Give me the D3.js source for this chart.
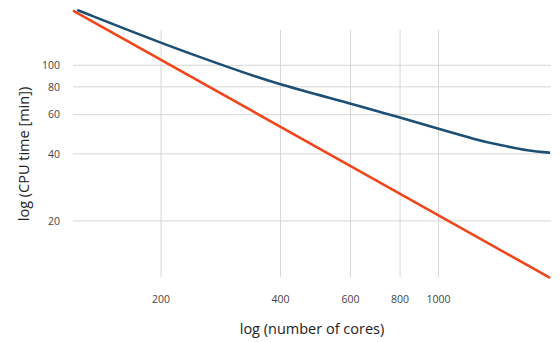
<!DOCTYPE html>
<html>
<head>
<meta charset="utf-8">
<script src="https://cdn.jsdelivr.net/npm/d3@7"></script>
<style>
  body { margin: 0; background: #fff; }
  text { font-family: "Open Sans", sans-serif; }
</style>
</head>
<body>
<div id="chart"></div>
<script>
// values
var xTicks = [200, 400, 600, 800, 1000];
var yTicks = [20, 40, 60, 80, 100];

var idealCores = [120, 1910];
var idealTime = [176, 11.1];

var measuredCores = [123, 200, 300, 400, 600, 800, 1000, 1250, 1420, 1690, 1910];
var measuredTime = [177, 125.6, 97, 81.5, 67.5, 58.2, 51.8, 46.2, 43.9, 41.2, 40.5];

var width = 560, height = 342;
var plot = {left: 73, right: 551, top: 30, bottom: 277};

var svg = d3.select("#chart")
            .append("svg")
            .attr("width", width)
            .attr("height", height);

var x = d3.scaleLog().domain([120, 1920]).range([plot.left, plot.right]);
var y = d3.scaleLog().domain([11.2, 144]).range([plot.bottom, plot.top]);

// grid
svg.selectAll(".vgrid")
   .data(xTicks)
   .enter().append("line")
   .attr("x1", function(d){ return x(d); })
   .attr("x2", function(d){ return x(d); })
   .attr("y1", plot.top)
   .attr("y2", plot.bottom)
   .attr("stroke", "#d6d6d6")
   .attr("stroke-width", 1);

svg.selectAll(".hgrid")
   .data(yTicks)
   .enter().append("line")
   .attr("x1", plot.left)
   .attr("x2", plot.right)
   .attr("y1", function(d){ return y(d); })
   .attr("y2", function(d){ return y(d); })
   .attr("stroke", "#d6d6d6")
   .attr("stroke-width", 1);

// tick labels
svg.selectAll(".xlab")
   .data(xTicks)
   .enter().append("text")
   .attr("x", function(d){ return x(d); })
   .attr("y", 303)
   .attr("text-anchor", "middle")
   .attr("font-size", 10.5)
   .attr("fill", "#444")
   .text(function(d){ return d; });

svg.selectAll(".ylab")
   .data(yTicks)
   .enter().append("text")
   .attr("x", 60)
   .attr("y", function(d){ return y(d); })
   .attr("dy", "0.35em")
   .attr("text-anchor", "end")
   .attr("font-size", 10.5)
   .attr("fill", "#444")
   .text(function(d){ return d; });

// axis titles
svg.append("text")
   .attr("x", (plot.left + plot.right) / 2)
   .attr("y", 334)
   .attr("text-anchor", "middle")
   .attr("font-size", 14.5)
   .attr("fill", "#222")
   .text("log (number of cores)");

svg.append("text")
   .attr("transform", "translate(29,154) rotate(-90)")
   .attr("text-anchor", "middle")
   .attr("font-size", 14.5)
   .attr("fill", "#222")
   .text("log (CPU time [min])");

// lines
var line = d3.line()
             .x(function(d){ return x(d[0]); })
             .y(function(d){ return y(d[1]); })
             .curve(d3.curveBasis);

svg.append("path")
   .datum(d3.zip(measuredCores, measuredTime))
   .attr("d", line)
   .attr("fill", "none")
   .attr("stroke", "#1d4e74")
   .attr("stroke-width", 2.6);

svg.append("path")
   .datum(d3.zip(idealCores, idealTime))
   .attr("d", line)
   .attr("fill", "none")
   .attr("stroke", "#f0461c")
   .attr("stroke-width", 2.6);
</script>
</body>
</html>
